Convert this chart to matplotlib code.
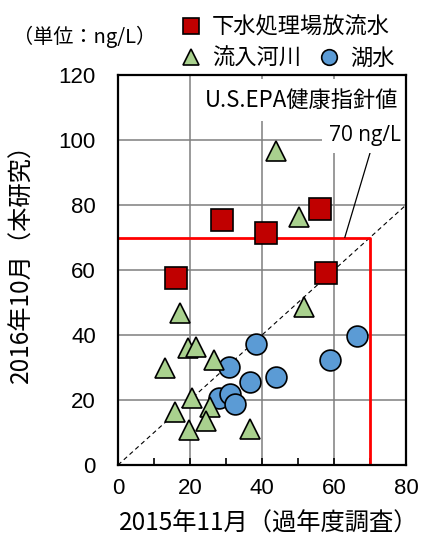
import numpy as np
import matplotlib
matplotlib.use("Agg")
import matplotlib.pyplot as plt
from matplotlib.ticker import MultipleLocator

plt.rcParams["font.family"] = ["Noto Sans CJK JP", "DejaVu Sans"]

# PFAS concentrations: x = Nov 2015 survey, y = Oct 2016 (this study), ng/L
sewage_x = [16.0, 28.8, 41.0, 56.0, 57.7]
sewage_y = [57.6, 75.4, 71.3, 78.9, 59.0]

river_x = [43.9, 50.3, 51.7, 17.1, 19.4, 21.6, 26.6, 13.1, 20.5, 25.6, 15.9, 24.5, 19.6, 36.8]
river_y = [96.7, 76.4, 48.7, 46.9, 35.9, 36.4, 32.3, 29.7, 20.5, 17.9, 16.2, 13.6, 10.8, 11.0]

lake_x = [38.2, 30.8, 36.8, 43.8, 66.5, 58.9, 28.0, 31.0, 32.6]
lake_y = [37.1, 30.3, 25.6, 27.0, 39.7, 32.3, 20.5, 21.7, 18.7]

epa_limit = 70
x_ticks = [0, 20, 40, 60, 80]
y_ticks = [0, 20, 40, 60, 80, 100, 120]

series_labels = ["下水処理場放流水", "流入河川", "湖水"]

fig = plt.figure(figsize=(4.27, 5.39), dpi=100)
ax = fig.add_axes([118 / 427, 1 - 465 / 539, 288 / 427, 390 / 539])

ax.set_xlim(0, 80)
ax.set_ylim(0, 120)
ax.set_xticks(x_ticks)
ax.set_yticks(y_ticks)
ax.xaxis.set_minor_locator(MultipleLocator(10))
ax.grid(True, which="major", color="#7f7f7f", lw=1.1, zorder=0)
ax.set_axisbelow(True)

for sp in ax.spines.values():
    sp.set_linewidth(1.6)
    sp.set_zorder(10)

ax.tick_params(axis="x", which="both", direction="in", length=5, width=1.2, pad=9)
ax.tick_params(axis="y", which="major", direction="in", length=0, pad=16)
for lab in ax.get_xticklabels() + ax.get_yticklabels():
    lab.set_fontfamily("Liberation Sans")
    lab.set_fontsize(16)

# 1:1 line and EPA guideline
ax.plot([0, 80], [0, 80], ls=(0, (4, 3)), color="black", lw=0.8, zorder=2)
ax.plot([0, epa_limit, epa_limit], [epa_limit, epa_limit, 0], color="#ff0000", lw=2.0, zorder=2)

h_lake, = ax.plot(lake_x, lake_y, "o", ms=15, mfc="#5b9bd5", mec="black", mew=1.2,
                  label=series_labels[2], zorder=4)
h_river, = ax.plot(river_x, river_y, "^", ms=15, mfc="#a9d18e", mec="black", mew=1.2,
                   label=series_labels[1], zorder=5)
h_sewage, = ax.plot(sewage_x, sewage_y, "s", ms=15.5, mfc="#c00000", mec="black", mew=1.2,
                    label=series_labels[0], zorder=6)

ax.text(78, 112.3, "U.S.EPA健康指針値", ha="right", va="center", fontsize=16,
        bbox=dict(facecolor="white", edgecolor="none", pad=7), zorder=3)
ax.annotate("70 ng/L", xy=(63, epa_limit), xytext=(78.6, 101.5), ha="right", va="center",
            fontsize=15, fontfamily="Open Sans",
            bbox=dict(facecolor="white", edgecolor="none", pad=5),
            arrowprops=dict(arrowstyle="-", color="black", lw=0.9, shrinkA=0, shrinkB=0,
                            relpos=(0.6, 0.0)),
            zorder=3)

ax.set_xlabel("2015年11月（過年度調査）", fontsize=17.5)
ax.set_ylabel("2016年10月（本研究）", fontsize=17.5)
ax.xaxis.set_label_coords(0.524, -0.118)
ax.yaxis.set_label_coords(-0.288, 0.531)

fig.text(13 / 427, 1 - 37 / 539, "（単位：ng/L）", fontsize=14.5, ha="left", va="center")

leg_kw = dict(frameon=False, fontsize=16, handlelength=0.8, handletextpad=0.55,
              borderpad=0, borderaxespad=0, markerscale=0.75, loc="center left")
fig.legend(handles=[h_sewage], bbox_to_anchor=(182 / 427, 1 - 27 / 539), **leg_kw)
fig.legend(handles=[h_river, h_lake], ncol=2, columnspacing=0.85,
           bbox_to_anchor=(182 / 427, 1 - 58.5 / 539), **leg_kw)

fig.savefig("out.png", dpi=100)
